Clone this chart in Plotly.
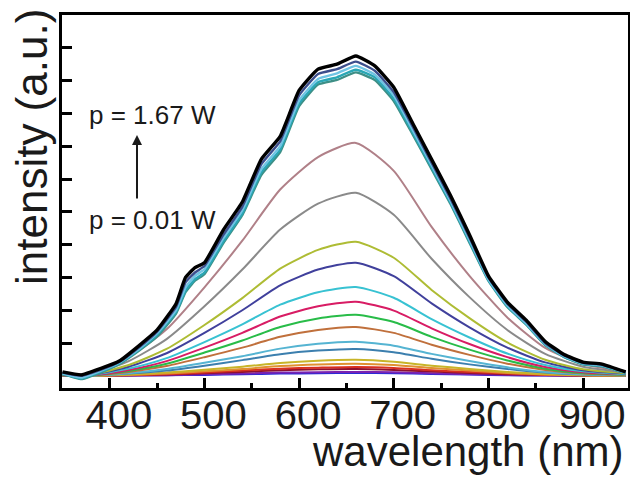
import plotly.graph_objects as go

# ---------------- data ----------------
wl_top = [350, 370, 390, 410, 430, 450, 470, 480, 490, 500, 520, 540, 560, 580, 600, 620,
          640, 660, 680, 700, 720, 740, 760, 780, 800, 820, 840, 860, 880, 900, 920, 945]

p_167 = [0.12, 0.03, 0.22, 0.45, 0.90, 1.40, 2.20, 3.00, 3.30, 3.45, 4.45, 5.30, 6.60, 7.30, 8.70, 9.35,
         9.50, 9.75, 9.45, 8.80, 7.70, 6.60, 5.50, 4.30, 3.05, 2.25, 1.70, 1.05, 0.65, 0.42, 0.36, 0.12]
p_top2 = [0.10, 0.00, 0.18, 0.42, 0.85, 1.35, 2.10, 2.85, 3.15, 3.35, 4.30, 5.15, 6.45, 7.15, 8.55, 9.20,
          9.35, 9.58, 9.30, 8.65, 7.60, 6.50, 5.40, 4.22, 3.00, 2.20, 1.65, 1.00, 0.62, 0.40, 0.34, 0.12]
p_top3 = [0.08, -0.05, 0.15, 0.40, 0.80, 1.30, 2.00, 2.70, 3.05, 3.25, 4.20, 5.05, 6.30, 7.00, 8.40, 9.05,
          9.22, 9.45, 9.18, 8.55, 7.50, 6.42, 5.33, 4.15, 2.95, 2.15, 1.60, 0.98, 0.60, 0.38, 0.32, 0.10]
p_top4 = [0.07, -0.08, 0.12, 0.38, 0.78, 1.25, 1.95, 2.60, 2.95, 3.15, 4.10, 4.95, 6.20, 6.90, 8.30, 8.95,
          9.10, 9.33, 9.10, 8.45, 7.42, 6.35, 5.28, 4.10, 2.92, 2.12, 1.58, 0.95, 0.58, 0.36, 0.30, 0.10]
p_top5 = [0.06, -0.10, 0.10, 0.36, 0.75, 1.20, 1.90, 2.55, 2.90, 3.10, 4.05, 4.90, 6.12, 6.82, 8.22, 8.88,
          9.02, 9.25, 9.02, 8.38, 7.36, 6.30, 5.24, 4.06, 2.90, 2.10, 1.56, 0.94, 0.57, 0.35, 0.29, 0.09]

wl = [350, 380, 420, 460, 500, 540, 580, 620, 660, 700, 740, 780, 820, 860, 900, 945]

s_rosy = [0.07, 0.07, 0.57, 1.42, 2.70, 4.12, 5.68, 6.67, 7.10, 6.25, 4.54, 3.05, 1.78, 0.85, 0.36, 0.14]
s_gray = [0.06, 0.06, 0.45, 1.12, 2.12, 3.24, 4.46, 5.25, 5.58, 4.91, 3.57, 2.40, 1.40, 0.67, 0.28, 0.11]
s_ygrn = [0.04, 0.04, 0.33, 0.82, 1.55, 2.37, 3.27, 3.84, 4.09, 3.60, 2.62, 1.76, 1.02, 0.49, 0.20, 0.08]
s_slat = [0.03, 0.03, 0.28, 0.69, 1.31, 2.00, 2.76, 3.24, 3.45, 3.04, 2.21, 1.48, 0.86, 0.41, 0.17, 0.07]
s_turq = [0.03, 0.03, 0.22, 0.54, 1.03, 1.57, 2.17, 2.55, 2.71, 2.38, 1.73, 1.17, 0.68, 0.33, 0.14, 0.05]
s_crim = [0.02, 0.02, 0.18, 0.45, 0.86, 1.31, 1.81, 2.12, 2.26, 1.99, 1.45, 0.97, 0.57, 0.27, 0.11, 0.05]
s_gren = [0.02, 0.02, 0.15, 0.37, 0.71, 1.08, 1.49, 1.75, 1.86, 1.64, 1.19, 0.80, 0.47, 0.22, 0.09, 0.04]
s_sien = [0.01, 0.01, 0.12, 0.30, 0.57, 0.86, 1.19, 1.40, 1.49, 1.31, 0.95, 0.64, 0.37, 0.18, 0.07, 0.03]
s_skyb = [0.01, 0.01, 0.08, 0.21, 0.40, 0.60, 0.83, 0.98, 1.04, 0.92, 0.67, 0.45, 0.26, 0.12, 0.05, 0.02]
s_stee = [0.01, 0.01, 0.07, 0.16, 0.31, 0.48, 0.66, 0.77, 0.82, 0.72, 0.52, 0.35, 0.21, 0.10, 0.04, 0.02]
s_gold = [0.00, 0.00, 0.04, 0.10, 0.19, 0.28, 0.39, 0.46, 0.49, 0.43, 0.31, 0.21, 0.12, 0.06, 0.02, 0.01]
s_oran = [0.00, 0.00, 0.03, 0.07, 0.14, 0.21, 0.30, 0.35, 0.37, 0.33, 0.24, 0.16, 0.09, 0.04, 0.02, 0.01]
s_red = [0.00, 0.00, 0.02, 0.05, 0.10, 0.16, 0.22, 0.25, 0.27, 0.24, 0.17, 0.12, 0.07, 0.03, 0.01, 0.00]
s_dred = [0.00, 0.00, 0.02, 0.04, 0.08, 0.12, 0.17, 0.20, 0.21, 0.18, 0.13, 0.09, 0.05, 0.03, 0.01, 0.00]
s_purp = [0.00, 0.00, 0.01, 0.02, 0.05, 0.07, 0.10, 0.11, 0.12, 0.11, 0.08, 0.05, 0.03, 0.01, 0.01, 0.00]
s_blue = [0.00, 0.00, 0.01, 0.02, 0.03, 0.05, 0.07, 0.08, 0.09, 0.08, 0.06, 0.04, 0.02, 0.01, 0.00, 0.00]

x_ticks = [400, 500, 600, 700, 800, 900]
x_minor = [450, 550, 650, 750, 850]
y_ticks = [1, 2, 3, 4, 5, 6, 7, 8, 9, 10]

low_series = [
    (s_blue, "#2a2ad8"), (s_purp, "#7a22b0"), (s_dred, "#8e1030"), (s_red, "#d83020"),
    (s_oran, "#e09030"), (s_gold, "#c8b428"), (s_stee, "#3c7fae"), (s_skyb, "#55b4d2"),
    (s_sien, "#c0703c"), (s_gren, "#28bc48"), (s_crim, "#d81c64"), (s_turq, "#38c2d2"),
    (s_slat, "#40409c"), (s_ygrn, "#aebc34"), (s_gray, "#8a8a8a"), (s_rosy, "#b08088"),
]
top_series = [
    (p_top5, "#3e8f86", 2.4), (p_top4, "#2aa7b5", 2.4), (p_top3, "#70c4e4", 2.4),
    (p_top2, "#3c4e8c", 2.4), (p_167, "#000000", 3.4),
]

FONT = "Liberation Sans, Arial, sans-serif"

fig = go.Figure()
for ys, col in low_series:
    fig.add_trace(go.Scatter(x=wl, y=ys, mode="lines",
                             line=dict(color=col, width=2, shape="spline", smoothing=0.6)))
for ys, col, w in top_series:
    fig.add_trace(go.Scatter(x=wl_top, y=ys, mode="lines",
                             line=dict(color=col, width=w, shape="spline", smoothing=0.4)))

fig.update_layout(
    width=630, height=477,
    margin=dict(l=62, r=2, t=15, b=89),
    paper_bgcolor="white", plot_bgcolor="white",
    showlegend=False,
    font=dict(family=FONT, color="#1a1a1a"),
)
fig.update_xaxes(
    range=[349.5, 947.5], showgrid=False, zeroline=False, automargin=False,
    showline=True, linecolor="black", linewidth=3, mirror=True,
    tickmode="array", tickvals=x_ticks, ticktext=[str(v) for v in x_ticks],
    ticks="inside", ticklen=10, tickwidth=2.5, tickcolor="black",
    minor=dict(tickmode="array", tickvals=x_minor, ticks="inside",
               ticklen=5, tickwidth=2.5, tickcolor="black"),
    tickfont=dict(size=40, family=FONT, color="#1a1a1a"),
    ticklabelshift=9, ticklabelstandoff=-10,
)
fig.update_yaxes(
    range=[-0.37, 11.0], showgrid=False, zeroline=False, automargin=False,
    showline=True, linecolor="black", linewidth=3, mirror=True,
    tickmode="array", tickvals=y_ticks, showticklabels=False,
    ticks="inside", ticklen=10, tickwidth=2.5, tickcolor="black",
)

fig.add_annotation(text="intensity (a.u.)", xref="paper", yref="paper",
                   x=-0.0548, y=0.646, xanchor="center", yanchor="middle",
                   textangle=-90, showarrow=False, font=dict(size=44, family=FONT, color="#1a1a1a"))
fig.add_annotation(text="wavelength (nm)", xref="paper", yref="paper",
                   x=0.9947, y=-0.169, xanchor="right", yanchor="middle",
                   showarrow=False, font=dict(size=42, family=FONT, color="#1a1a1a"))
fig.add_annotation(text="p = 1.67 W", xref="paper", yref="paper",
                   x=0.0442, y=0.732, xanchor="left", yanchor="middle",
                   showarrow=False, font=dict(size=26, family=FONT, color="#1a1a1a"))
fig.add_annotation(text="p = 0.01 W", xref="paper", yref="paper",
                   x=0.0442, y=0.450, xanchor="left", yanchor="middle",
                   showarrow=False, font=dict(size=26, family=FONT, color="#1a1a1a"))
fig.add_annotation(text="", xref="paper", yref="paper", x=0.1325, y=0.678,
                   ax=0, ay=65, showarrow=True, arrowhead=2, arrowsize=1,
                   arrowwidth=2, arrowcolor="#1a1a1a")

fig.write_html("out.html", config={"displayModeBar": False},
               post_script="document.body.style.margin='0';document.body.style.overflow='hidden';")
